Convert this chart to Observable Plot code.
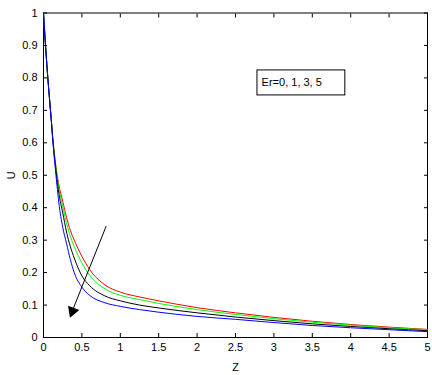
<!DOCTYPE html>
<html><head><meta charset="utf-8">
<script src="https://cdn.jsdelivr.net/npm/d3@7"></script>
<script src="https://cdn.jsdelivr.net/npm/@observablehq/plot@0.6"></script>
<style>
body{margin:0;background:#fff;}
#chart svg{display:block;}
</style>
</head><body><div id="chart"></div>
<script>
const Z = [0, 0.025, 0.05, 0.075, 0.1, 0.125, 0.15, 0.175, 0.2, 0.25, 0.3, 0.35, 0.4, 0.5, 0.6, 0.8, 1, 1.25, 1.5, 2, 2.5, 3, 3.5, 4, 4.5, 5];
const U_Er0 = [1, 0.905, 0.82, 0.745, 0.675, 0.605, 0.55, 0.505, 0.47, 0.42, 0.37, 0.33, 0.30, 0.25, 0.21, 0.162, 0.14, 0.125, 0.113, 0.092, 0.076, 0.062, 0.05, 0.04, 0.032, 0.025];
const U_Er1 = [1, 0.905, 0.82, 0.745, 0.675, 0.603, 0.545, 0.5, 0.46, 0.405, 0.352, 0.312, 0.28, 0.23, 0.192, 0.15, 0.13, 0.117, 0.105, 0.086, 0.071, 0.058, 0.047, 0.038, 0.03, 0.024];
const U_Er3 = [1, 0.905, 0.82, 0.745, 0.675, 0.6, 0.54, 0.49, 0.445, 0.385, 0.325, 0.28, 0.245, 0.19, 0.16, 0.128, 0.113, 0.1, 0.091, 0.076, 0.063, 0.052, 0.042, 0.034, 0.027, 0.021];
const U_Er5 = [1, 0.905, 0.82, 0.745, 0.672, 0.595, 0.53, 0.47, 0.415, 0.34, 0.29, 0.24, 0.2, 0.155, 0.13, 0.107, 0.096, 0.086, 0.078, 0.065, 0.056, 0.046, 0.037, 0.03, 0.024, 0.018];
const seriesNames = ["Er=0", "Er=1", "Er=3", "Er=5"];
const seriesColors = ["#ff0000", "#00ff00", "#000000", "#0000ff"];
const xTicks = [0, 0.5, 1, 1.5, 2, 2.5, 3, 3.5, 4, 4.5, 5];
const yTicks = [0, 0.1, 0.2, 0.3, 0.4, 0.5, 0.6, 0.7, 0.8, 0.9, 1];
const noteText = ["Er=0, 1, 3, 5"];
const noteBoxX = [2.786, 3.93];
const noteBoxY = [0.746, 0.823];
const noteTextPos = [2.84, 0.785];
const arrowFrom = [0.816, 0.343];
const arrowTo = [0.352, 0.061];

const allSeries = [U_Er0, U_Er1, U_Er3, U_Er5];
const rows = [];
allSeries.forEach((s, i) => s.forEach((u, j) => rows.push({z: Z[j], u, s: seriesNames[i]})));

const font = "'Liberation Sans', Arial, sans-serif";
const plot = Plot.plot({
  width: 432, height: 375,
  marginLeft: 43, marginRight: 5, marginTop: 12.5, marginBottom: 38,
  style: {fontFamily: font, fontSize: "11px", color: "#000", background: "#fff"},
  x: {domain: [0, 5]},
  y: {domain: [0, 1]},
  color: {domain: seriesNames, range: seriesColors},
  marks: [
    Plot.frame({stroke: "#000", strokeWidth: 1}),
    Plot.axisX({ticks: xTicks, tickSize: -4, tickPadding: 10, label: "Z", labelAnchor: "center", labelArrow: "none", labelOffset: 33, tickFormat: d => String(d)}),
    Plot.axisX({anchor: "top", ticks: xTicks, tickSize: -4, tickFormat: () => "", label: null}),
    Plot.axisY({ticks: yTicks, tickSize: -4, tickPadding: 10, label: "U", labelAnchor: "center", labelArrow: "none", labelOffset: 36, tickFormat: d => String(d)}),
    Plot.axisY({anchor: "right", ticks: yTicks, tickSize: -4, tickFormat: () => "", label: null}),
    Plot.line(rows, {x: "z", y: "u", z: "s", stroke: "s", strokeWidth: 1, curve: "monotone-x"}),
    Plot.rect([0], {x1: () => noteBoxX[0], x2: () => noteBoxX[1], y1: () => noteBoxY[0], y2: () => noteBoxY[1], fill: "#fff", stroke: "#000", strokeWidth: 1}),
    Plot.text(noteText, {x: () => noteTextPos[0], y: () => noteTextPos[1], text: d => d, textAnchor: "start", fill: "#000", fontSize: 11}),
    Plot.link([0], {x1: () => arrowFrom[0], y1: () => arrowFrom[1], x2: () => arrowTo[0] + 0.03, y2: () => arrowTo[1] + 0.025, stroke: "#000", strokeWidth: 1}),
    Plot.dot([0], {x: () => arrowTo[0] + 0.025, y: () => arrowTo[1] + 0.02, symbol: "triangle", r: 4.5, rotate: 201, fill: "#000", stroke: "none"})
  ]
});
document.getElementById("chart").appendChild(plot);
</script>
</body></html>
